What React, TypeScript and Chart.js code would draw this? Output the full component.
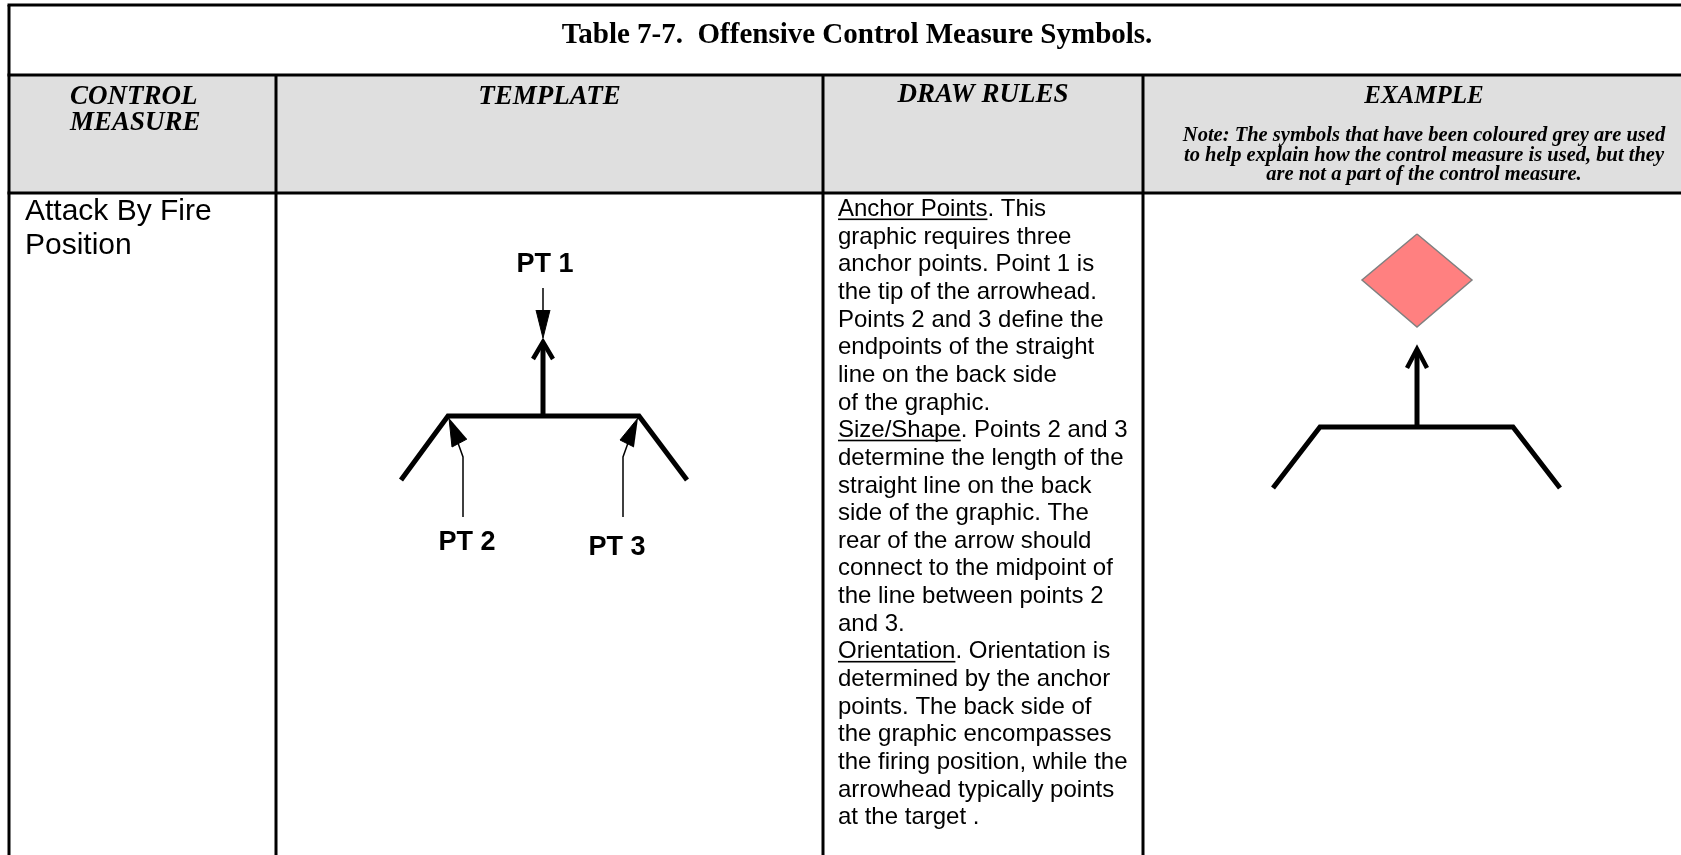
import React, { useEffect, useRef } from "react";
import { Chart, registerables } from "chart.js";

Chart.register(...registerables);

type P = { x: number; y: number };

// ---------- data ----------
const tableColumns = [9, 276, 823, 1143, 1705];
const tableRows = [5, 75, 193, 900];

const titleText = "Table 7-7.  Offensive Control Measure Symbols.";
const headerControl = ["CONTROL", "MEASURE"];
const headerTemplate = "TEMPLATE";
const headerDrawRules = "DRAW RULES";
const headerExample = "EXAMPLE";
const noteLines = [
  "Note: The symbols that have been coloured grey are used",
  "to help explain how the control measure is used, but they",
  "are not a part of the control measure.",
];
const controlMeasureName = ["Attack By Fire", "Position"];
const drawRulesLines = [
  "Anchor Points. This",
  "graphic requires three",
  "anchor points. Point 1 is",
  "the tip of the arrowhead.",
  "Points 2 and 3 define the",
  "endpoints of the straight",
  "line on the back side",
  "of the graphic.",
  "Size/Shape. Points 2 and 3",
  "determine the length of the",
  "straight line on the back",
  "side of the graphic. The",
  "rear of the arrow should",
  "connect to the midpoint of",
  "the line between points 2",
  "and 3.",
  "Orientation. Orientation is",
  "determined by the anchor",
  "points. The back side of",
  "the graphic encompasses",
  "the firing position, while the",
  "arrowhead typically points",
  "at the target .",
];
const underlinedHeads: Record<number, string> = {
  0: "Anchor Points",
  8: "Size/Shape",
  16: "Orientation",
};
const pointLabels = ["PT 1", "PT 2", "PT 3"];

// template symbol
const templateBackLine: P[] = [
  { x: 401, y: 480 }, { x: 448, y: 416 }, { x: 639, y: 416 }, { x: 687, y: 480 },
];
const templateShaft: P[] = [{ x: 543, y: 416 }, { x: 543, y: 343 }];
const templateHead: P[] = [{ x: 533, y: 359 }, { x: 543, y: 342 }, { x: 553, y: 359 }];
const pt1Leader: P[] = [{ x: 543, y: 288 }, { x: 543, y: 312 }];
const pt1Head: P[] = [{ x: 536, y: 310 }, { x: 543, y: 338 }, { x: 550, y: 310 }];
const pt2Leader: P[] = [{ x: 463, y: 517 }, { x: 463, y: 457 }, { x: 458, y: 443 }];
const pt2Head: P[] = [{ x: 449, y: 418 }, { x: 452, y: 447 }, { x: 467, y: 439 }];
const pt3Leader: P[] = [{ x: 623, y: 517 }, { x: 623, y: 457 }, { x: 628, y: 443 }];
const pt3Head: P[] = [{ x: 638, y: 418 }, { x: 620, y: 440 }, { x: 634, y: 447 }];

// example symbol
const exampleBackLine: P[] = [
  { x: 1273, y: 488 }, { x: 1320, y: 427 }, { x: 1513, y: 427 }, { x: 1560, y: 488 },
];
const exampleShaft: P[] = [{ x: 1417, y: 427 }, { x: 1417, y: 350 }];
const exampleHead: P[] = [{ x: 1407, y: 368 }, { x: 1417, y: 349 }, { x: 1427, y: 368 }];
const exampleTarget: P[] = [
  { x: 1417, y: 234 }, { x: 1472, y: 280 }, { x: 1417, y: 327 }, { x: 1362, y: 280 }, { x: 1417, y: 234 },
];

// ---------- styling ----------
const W = 1681;
const H = 855;
const SERIF = '"Liberation Serif", "Times New Roman", serif';
const SANS = '"Liberation Sans", Arial, sans-serif';

function lineDs(data: P[], width: number, extra: any = {}) {
  return {
    data,
    borderColor: "#000",
    borderWidth: width,
    pointRadius: 0,
    pointHoverRadius: 0,
    fill: false,
    tension: 0,
    borderJoinStyle: "miter",
    borderCapStyle: "butt",
    ...extra,
  };
}

function filledDs(data: P[], color: string, border: string, width: number) {
  return lineDs(data, width, { fill: "shape", backgroundColor: color, borderColor: border });
}

const tablePlugin = {
  id: "tableText",
  beforeDatasetsDraw(chart: any) {
    const ctx = chart.ctx;
    const sx = chart.scales.x;
    const sy = chart.scales.y;
    const x0 = sx.getPixelForValue(tableColumns[0]);
    const x1 = sx.getPixelForValue(tableColumns[tableColumns.length - 1]);
    const y0 = sy.getPixelForValue(tableRows[1]);
    const y1 = sy.getPixelForValue(tableRows[2]);
    ctx.save();
    ctx.fillStyle = "#dfdfdf";
    ctx.fillRect(x0, y0, x1 - x0, y1 - y0);
    ctx.restore();
  },
  afterDatasetsDraw(chart: any) {
    const ctx = chart.ctx;
    const px = (v: number) => chart.scales.x.getPixelForValue(v);
    const py = (v: number) => chart.scales.y.getPixelForValue(v);
    const text = (s: string, x: number, y: number, font: string, align: CanvasTextAlign = "left") => {
      ctx.font = font;
      ctx.textAlign = align;
      ctx.textBaseline = "alphabetic";
      ctx.fillText(s, px(x), py(y));
    };
    ctx.save();
    ctx.fillStyle = "#000";
    const colMid = (i: number) => (tableColumns[i] + tableColumns[i + 1]) / 2;

    // title
    text(titleText, (tableColumns[0] + tableColumns[4]) / 2, 43, `bold 29px ${SERIF}`, "center");

    // headers
    const hf = `italic bold 27px ${SERIF}`;
    text(headerControl[0], 70, 104, hf);
    text(headerControl[1], 70, 130, hf);
    text(headerTemplate, colMid(1), 104, hf, "center");
    text(headerDrawRules, colMid(2), 102, hf, "center");
    text(headerExample, colMid(3), 103, `italic bold 25px ${SERIF}`, "center");
    noteLines.forEach((s, i) => text(s, colMid(3), 141 + i * 19.5, `italic bold 20.5px ${SERIF}`, "center"));

    // control measure
    controlMeasureName.forEach((s, i) => text(s, 25, 220 + i * 34, `30px ${SANS}`));

    // draw rules
    const bf = `24px ${SANS}`;
    drawRulesLines.forEach((s, i) => {
      const y = 216 + i * 27.65;
      text(s, 838, y, bf);
      const u = underlinedHeads[i];
      if (u) {
        ctx.font = bf;
        const w = ctx.measureText(u).width;
        ctx.fillRect(px(838), py(y) + 2.5, w, 1.6);
      }
    });

    // point labels
    const pf = `bold 27px ${SANS}`;
    text(pointLabels[0], 545, 272, pf, "center");
    text(pointLabels[1], 467, 550, pf, "center");
    text(pointLabels[2], 617, 555, pf, "center");
    ctx.restore();
  },
};

export default function App() {
  const ref = useRef<HTMLCanvasElement | null>(null);
  useEffect(() => {
    document.body.style.margin = "0";
    const canvas = ref.current!;
    const datasets: any[] = [];
    // grid lines
    const xl = tableColumns[0];
    const xr = tableColumns[tableColumns.length - 1];
    for (let r = 0; r < 3; r++) {
      datasets.push(lineDs([{ x: xl - 1.5, y: tableRows[r] }, { x: xr, y: tableRows[r] }], 3));
    }
    datasets.push(lineDs([{ x: xl, y: tableRows[0] }, { x: xl, y: tableRows[3] }], 3));
    datasets.push(lineDs([{ x: xr, y: tableRows[0] }, { x: xr, y: tableRows[3] }], 3));
    for (let c = 1; c < tableColumns.length - 1; c++) {
      datasets.push(lineDs([{ x: tableColumns[c], y: tableRows[1] }, { x: tableColumns[c], y: tableRows[3] }], 3));
    }
    // template
    datasets.push(lineDs(templateBackLine, 5));
    datasets.push(lineDs(templateShaft, 5));
    datasets.push(lineDs(templateHead, 4.5));
    datasets.push(lineDs(pt1Leader, 1.5));
    datasets.push(filledDs(pt1Head, "#000", "#000", 1));
    datasets.push(lineDs(pt2Leader, 1.5));
    datasets.push(filledDs(pt2Head, "#000", "#000", 1));
    datasets.push(lineDs(pt3Leader, 1.5));
    datasets.push(filledDs(pt3Head, "#000", "#000", 1));
    // example
    datasets.push(filledDs(exampleTarget, "#ff8080", "#808080", 1.5));
    datasets.push(lineDs(exampleBackLine, 5));
    datasets.push(lineDs(exampleShaft, 5));
    datasets.push(lineDs(exampleHead, 4.5));

    const chart = new Chart(canvas, {
      type: "line",
      data: { datasets },
      options: {
        animation: false,
        responsive: false,
        maintainAspectRatio: false,
        events: [],
        layout: { padding: 0 },
        plugins: { legend: { display: false }, tooltip: { enabled: false }, title: { display: false } },
        scales: {
          x: { type: "linear", min: 0, max: W, display: false },
          y: { type: "linear", min: 0, max: H, reverse: true, display: false },
        },
      } as any,
      plugins: [tablePlugin],
    });
    return () => chart.destroy();
  }, []);
  return (
    <div style={{ position: "fixed", left: 0, top: 0, width: W, height: H, background: "#fff" }}>
      <canvas ref={ref} width={W} height={H} style={{ display: "block", width: W, height: H }} />
    </div>
  );
}
